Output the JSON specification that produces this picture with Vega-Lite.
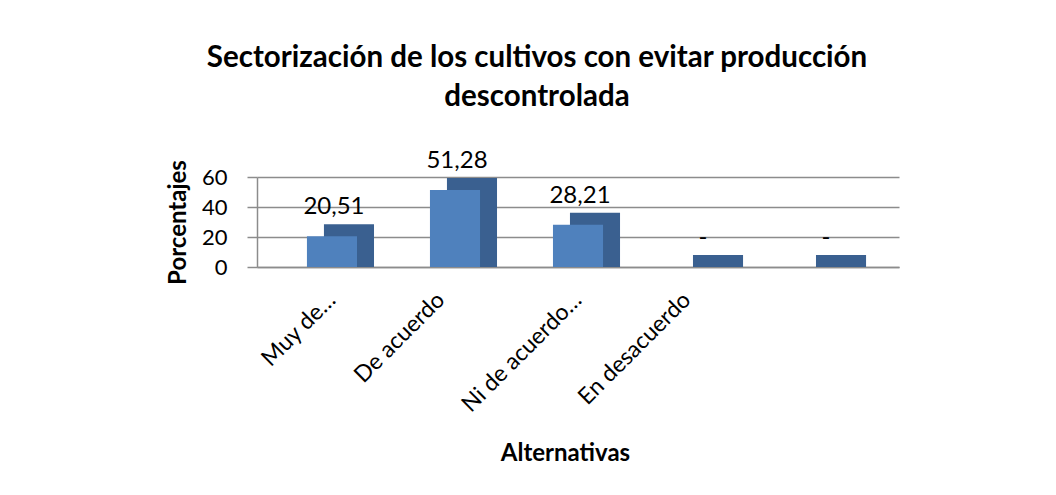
{
  "$schema": "https://vega.github.io/schema/vega-lite/v6.json",
  "autosize": {"type": "none"},
  "width": 642,
  "height": 90,
  "padding": {"left": 257, "top": 177, "right": 157, "bottom": 228},
  "background": "white",
  "config": {
    "font": "Lato",
    "view": {"stroke": null},
    "locale": {"number": {"decimal": ",", "thousands": ".", "grouping": [3], "currency": ["", " €"]}}
  },
  "title": {
    "text": ["Sectorización de los cultivos con evitar producción", "descontrolada"],
    "fontSize": 29.5,
    "fontWeight": "bold",
    "font": "Lato",
    "color": "black",
    "anchor": "middle",
    "dx": -41,
    "lineHeight": 39,
    "offset": 37
  },
  "data": {
    "values": [
      {"alternativa": "Muy de acuerdo", "porcentaje": 20.51},
      {"alternativa": "De acuerdo", "porcentaje": 51.28},
      {"alternativa": "Ni de acuerdo ni en desacuerdo", "porcentaje": 28.21},
      {"alternativa": "En desacuerdo", "porcentaje": 0},
      {"alternativa": "Muy en desacuerdo", "porcentaje": 0}
    ]
  },
  "encoding": {
    "x": {
      "field": "alternativa",
      "type": "nominal",
      "sort": null,
      "scale": {"paddingInner": 0.593, "paddingOuter": 0.406},
      "axis": {
        "title": "Alternativas",
        "titleFontSize": 24,
        "titleFontWeight": "bold",
        "titleColor": "black",
        "titleX": 308,
        "titleY": 186,
        "titleBaseline": "middle",
        "labelAngle": -45,
        "labelAlign": "right",
        "labelBaseline": "middle",
        "labelFontSize": 23,
        "labelColor": "black",
        "labelPadding": 29,
        "labelOffset": {"condition": {"test": "datum.value == 'De acuerdo' || datum.value == 'En desacuerdo'", "value": -14}, "value": 0},
        "ticks": false,
        "tickSize": 0,
        "domainColor": "#8C8C8C",
        "domainWidth": 1.5,
        "labelExpr": "datum.label == 'Muy de acuerdo' ? 'Muy de…' : datum.label == 'Ni de acuerdo ni en desacuerdo' ? 'Ni de acuerdo…' : datum.label == 'Muy en desacuerdo' ? '' : datum.label"
      }
    },
    "y": {
      "field": "porcentaje",
      "type": "quantitative",
      "scale": {"domain": [0, 60], "nice": false},
      "axis": {
        "title": "Porcentajes",
        "titleFontSize": 24,
        "titleFontWeight": "bold",
        "titleColor": "black",
        "titlePadding": 11,
        "values": [0, 20, 40, 60],
        "labelFontSize": 22,
        "labelColor": "black",
        "labelPadding": 20,
        "tickSize": 10,
        "tickColor": "#8C8C8C",
        "tickWidth": 1.5,
        "domainColor": "#8C8C8C",
        "domainWidth": 1.5,
        "gridColor": "#8C8C8C",
        "gridWidth": 1.5,
        "gridOpacity": 1
      }
    }
  },
  "layer": [
    {
      "mark": {"type": "bar", "color": "#3A6090", "xOffset": 17, "yOffset": -12, "y2Offset": 0},
      "encoding": {"y2": {"datum": 0}}
    },
    {
      "mark": {"type": "bar", "color": "#4F81BD"}
    },
    {
      "mark": {"type": "text", "fontSize": 24, "color": "black", "baseline": "middle", "dy": -29, "dx": 2},
      "encoding": {
        "text": {
          "condition": {"test": "datum.porcentaje === 0", "value": "-"},
          "field": "porcentaje",
          "type": "quantitative",
          "format": ".2f"
        }
      }
    }
  ]
}
